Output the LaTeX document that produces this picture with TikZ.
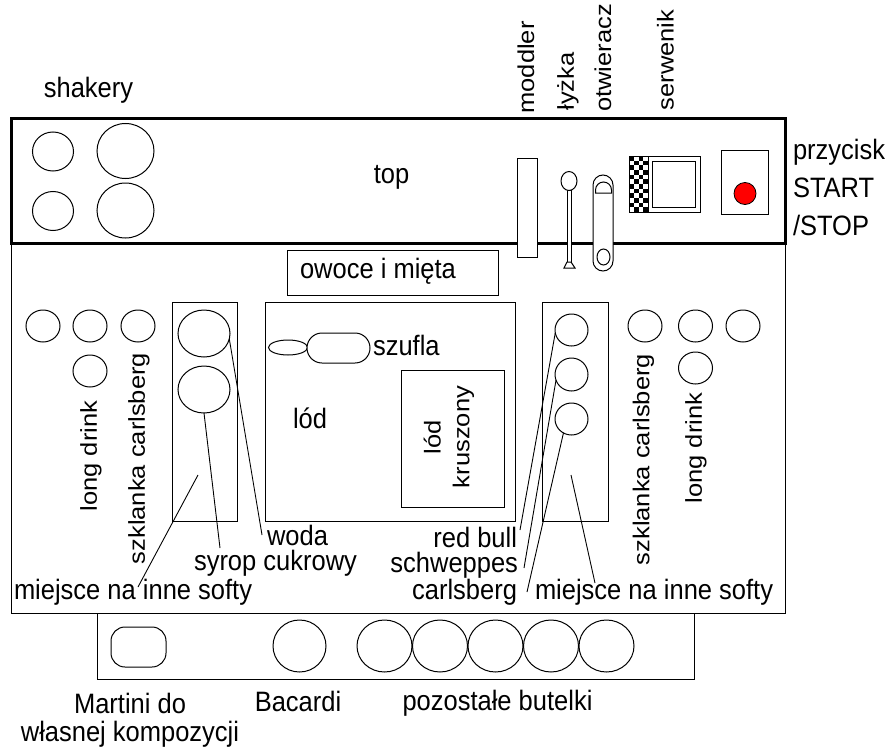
\documentclass[tikz,border=0pt]{standalone}
\usepackage{fontspec}
\setmainfont{Liberation Sans}
\usetikzlibrary{shapes.geometric}
\begin{document}
\begin{tikzpicture}[x=1pt,y=-1pt,
  every node/.style={inner sep=0pt, outer sep=0pt},
  lw/.style={line width=1pt},
  box/.style={draw, line width=1pt, rectangle, fill=white},
  ring/.style={draw, line width=1pt, ellipse, fill=white},
  txt/.style={font=\fontsize{25.5}{30}\selectfont, yscale=1.1},
  vtxt/.style={font=\fontsize{25.5}{32}\selectfont, rotate=90, yscale=0.9},
  conn/.style={line width=0.9pt}
]
\useasboundingbox (0,0) rectangle (894,752);

% main boxes
\node[box, minimum width=773.5pt, minimum height=370pt] (mainbox) at (398.25,428) {};
\node[draw, line width=3pt, fill=white, minimum width=773.5pt, minimum height=124.5pt] (topbox) at (398.25,180.75) {};
\node[box, minimum width=597pt, minimum height=66pt] (bottles) at (395.5,646) {};

% shakers
\node[ring, minimum width=41pt, minimum height=39pt] (sh1) at (53,151.5) {};
\node[ring, minimum width=41pt, minimum height=39pt] (sh2) at (53,211) {};
\node[ring, minimum width=57pt, minimum height=55pt] (sh3) at (125.5,151) {};
\node[ring, minimum width=57pt, minimum height=55pt] (sh4) at (125.5,210.5) {};

% top-right tools
\node[box, minimum width=20pt, minimum height=99pt] (modd) at (527,207.5) {};
\node[box, minimum width=4pt, minimum height=72pt] (lyzs) at (569,226) {};
\draw[lw, fill=white] (567,262) -- (564,268) -- (575,268) -- (571,262) -- cycle;
\node[ring, minimum width=16pt, minimum height=19pt] (lyzh) at (569,181) {};
\node[box, rounded corners=10pt, minimum width=20pt, minimum height=96pt] (otw) at (603,223) {};
\draw[lw] (595.5,193) -- (595.5,190) arc[start angle=180, end angle=360, radius=8] -- (611.5,193) -- cycle;
\node[ring, minimum width=13pt, minimum height=16pt] (otwc) at (603.5,257) {};

\node[box, minimum width=71pt, minimum height=56pt] (serw) at (664.5,184) {};
\foreach \i in {0,...,3}{\foreach \j in {0,...,11}{%
  \pgfmathtruncatemacro\k{mod(\i+\j,2)}%
  \ifnum\k=0 \fill (629+\i*4.75,156+\j*4.6667) rectangle ++(4.75,4.6667);\fi}}
\draw[lw] (629,156) rectangle (700,212);
\draw[lw] (648,156) -- (648,212);
\node[box, minimum width=43pt, minimum height=46pt] (serwin) at (673.5,184) {};

\node[box, minimum width=47pt, minimum height=64pt] (btn) at (744.5,182) {};
\node[draw, line width=0.8pt, circle, fill=red, minimum size=22pt] (dot) at (745,193.5) {};

% fruit box
\node[box, minimum width=211pt, minimum height=45pt] (owoce) at (392.5,272.5) {};

% glasses
\node[ring, minimum width=34pt, minimum height=32pt] (gl1) at (43,326) {};
\node[ring, minimum width=34pt, minimum height=32pt] (gl2) at (90,326) {};
\node[ring, minimum width=34pt, minimum height=32pt] (gl3) at (138,326) {};
\node[ring, minimum width=34pt, minimum height=32pt] (gl4) at (90,371) {};
\node[ring, minimum width=34pt, minimum height=32pt] (gr1) at (645,326) {};
\node[ring, minimum width=34pt, minimum height=32pt] (gr2) at (695.5,326) {};
\node[ring, minimum width=34pt, minimum height=32pt] (gr3) at (743,326) {};
\node[ring, minimum width=34pt, minimum height=32pt] (gr4) at (695.5,368) {};

% soft boxes and ice
\node[box, minimum width=65pt, minimum height=219pt] (lsoft) at (204.5,411.5) {};
\node[box, minimum width=250pt, minimum height=219pt] (ice) at (390,411.5) {};
\node[box, minimum width=103pt, minimum height=137pt] (crushed) at (452.5,438.5) {};
\node[box, minimum width=66pt, minimum height=219pt] (rsoft) at (575,411.5) {};

\node[ring, minimum width=52pt, minimum height=47pt] (ls1) at (204,333.5) {};
\node[ring, minimum width=52pt, minimum height=47pt] (ls2) at (204,389.5) {};
\node[ring, minimum width=33pt, minimum height=32pt] (rs1) at (571.5,330) {};
\node[ring, minimum width=33pt, minimum height=33pt] (rs2) at (571.5,374.5) {};
\node[ring, minimum width=33pt, minimum height=32pt] (rs3) at (571.5,419) {};

% scoop
\node[ring, minimum width=39pt, minimum height=15pt] (szs) at (288,347.5) {};
\node[box, rounded corners=15pt, minimum width=63pt, minimum height=30pt] (szb) at (338.5,348) {};

% bottles
\node[box, rounded corners=14pt, minimum width=55pt, minimum height=40pt] (mart) at (138.5,647) {};
\node[ring, minimum width=53pt, minimum height=52pt] (bac) at (299.5,646) {};
\foreach \n in {0,...,4}{\node[ring, minimum width=55pt, minimum height=52pt] (b\n) at (384.5+55.5*\n,646) {};}

% texts
\node[txt, anchor=base] (shakt) at (88.5,97) {shakery};
\node[txt, anchor=base] (topt) at (391.5,183) {top};
\node[txt, anchor=base west] (owt) at (300,278) {owoce i mięta};
\node[txt, anchor=base west] (lodt) at (293,428) {lód};
\node[txt, anchor=base west] (szt) at (373,355) {szufla};
\node[txt, anchor=base west] (wodat) at (267,545) {woda};
\node[txt, anchor=base west] (syropt) at (194,570) {syrop cukrowy};
\node[txt, anchor=base west] (mlt) at (14,599) {miejsce na inne softy};
\node[txt, anchor=base east] (rbt) at (517,547) {red bull};
\node[txt, anchor=base east] (scht) at (518,572) {schweppes};
\node[txt, anchor=base east] (carlt) at (517,599) {carlsberg};
\node[txt, anchor=base west] (mrt) at (535,599) {miejsce na inne softy};
\node[txt, font=\fontsize{25.5}{34.8}\selectfont, align=left, anchor=north west] (przt) at (793,139) {przycisk\\START\\/STOP};
\node[txt, font=\fontsize{25.5}{25.5}\selectfont, align=center, anchor=north] (martt) at (130,693) {Martini do\\własnej kompozycji};
\node[txt, anchor=base] (bact) at (298,711) {Bacardi};
\node[txt, anchor=base] (pozt) at (497.5,710) {pozostałe butelki};

\node[vtxt] (ldl) at (91,456) {long drink};
\node[vtxt] (szl) at (139,458.5) {szklanka carlsberg};
\node[vtxt] (szr) at (643.5,459.5) {szklanka carlsberg};
\node[vtxt] (ldr) at (696,448) {long drink};
\node[vtxt] (modt) at (526,67.5) {moddler};
\node[vtxt] (lyzt) at (568,81.5) {łyżka};
\node[vtxt] (otwt) at (603,58) {otwieracz};
\node[vtxt] (serwt) at (665.5,60) {serwenik};
\node[vtxt, align=center] (krt) at (449,437) {lód\\kruszony};

% connectors
\coordinate (wodaend) at (262,535);
\coordinate (syropend) at (220,548);
\coordinate (mlstart) at (198,475);
\coordinate (mlend) at (138,587);
\coordinate (rbend) at (520,530);
\coordinate (schend) at (524,568);
\coordinate (carlend) at (527,592);
\coordinate (mrstart) at (571,475);
\coordinate (mrend) at (595,583);
\draw[conn] (ls1.-12) -- (wodaend);
\draw[conn] (ls2.south) -- (syropend);
\draw[conn] (mlstart) -- (mlend);
\draw[conn] (rs1.190) -- (rbend);
\draw[conn] (rs2.200) -- (schend);
\draw[conn] (rs3.240) -- (carlend);
\draw[conn] (mrstart) -- (mrend);
\end{tikzpicture}
\end{document}
